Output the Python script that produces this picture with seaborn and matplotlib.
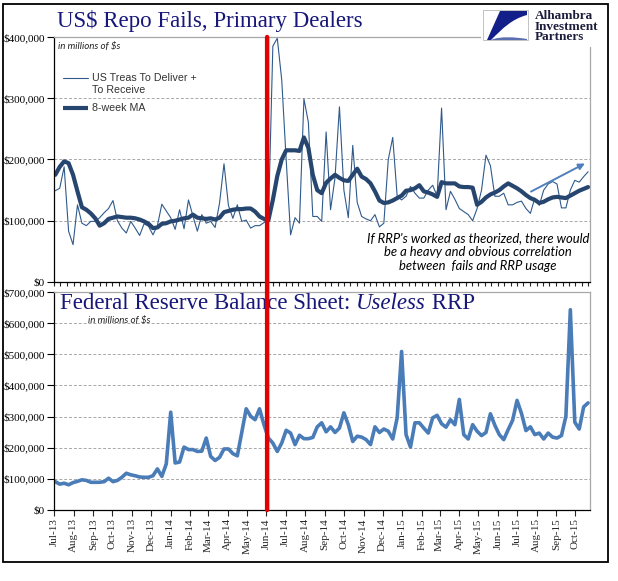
import numpy as np
import pandas as pd
import matplotlib
matplotlib.use("Agg")
import matplotlib.pyplot as plt
import matplotlib.dates as mdates
import matplotlib.ticker as mticker
from matplotlib.patches import Rectangle, PathPatch, ConnectionPatch
from matplotlib.path import Path
from matplotlib.lines import Line2D
import seaborn as sns

# ---------------- data (values in $ thousands of millions) ----------------
first_week = "2013-07-03"          # weekly (Wednesday) observations
n_weeks = 121
x_start = "2013-07-01"
x_end = "2015-10-24"
red_line_date = "2014-06-02"

fails_raw_k = [149, 153, 188, 83, 61, 126, 96, 92, 99, 99,
               105, 113, 120, 133, 100, 88, 80, 99, 88, 76,
               95, 91, 77, 92, 127, 116, 105, 86, 118, 87,
               134, 108, 83, 110, 96, 99, 89, 129, 193, 125,
               104, 126, 99, 101, 88, 92, 92, 97, 101,
               385, 398, 330, 200, 77, 105, 96, 299, 261, 107, 107, 99,
               245, 118, 170, 286, 150, 105, 223, 130, 107, 103,
               100, 110, 90, 96, 200, 236, 140, 134, 140, 156,
               145, 137, 137, 150, 158, 140, 284, 118, 148, 135,
               120, 115, 110, 100, 120, 150, 207, 190, 140, 140, 145,
               126, 126, 130, 132, 120, 112, 137, 125, 150, 160,
               164, 160, 121, 121, 150, 166, 163, 172, 180]

fails_ma_k = [175, 188, 197, 194, 175, 148, 122, 118, 112, 104,
              92, 96, 103, 105, 107, 106, 105, 105, 104, 102,
              99, 95, 88, 89, 95, 96, 99, 100, 102, 104,
              105, 110, 105, 104, 103, 104, 102, 105, 114, 116,
              118, 119, 119, 120, 120, 115, 107, 103, 101,
              134, 173, 200, 215, 215, 215, 214, 236, 219, 175, 150, 145,
              162, 169, 175, 170, 166, 165, 175, 185, 172, 168,
              161, 148, 133, 129, 130, 133, 137, 141, 149, 150,
              153, 158, 148, 146, 143, 139, 163, 161, 161, 161,
              156, 155, 155, 154, 126, 131, 138, 143, 146, 150,
              156, 161, 157, 153, 148, 142, 137, 134,
              129, 131, 135, 138, 139, 138, 137, 141, 145, 149, 152, 155]

rrp_k = [91, 83, 86, 81, 88, 92, 97, 95, 89, 89,
         89, 91, 102, 91, 95, 105, 118, 113, 110, 106,
         105, 105, 110, 132, 108, 148, 314, 151, 154, 202,
         194, 194, 188, 189, 231, 172, 159, 169, 196, 196,
         181, 174, 249, 325, 301, 290, 325, 274, 231,
         215, 188, 215, 256, 247, 210, 240, 229, 229, 233, 267, 280,
         251, 267, 249, 263, 312, 274, 220, 237, 234, 226,
         210, 267, 249, 260, 253, 228, 296, 509, 242, 202,
         280, 280, 263, 247, 296, 304, 277, 266, 290, 274,
         355, 242, 228, 274, 253, 239, 249, 309, 272, 242,
         226, 258, 288, 352, 310, 255, 267, 242, 247, 228, 247, 234,
         231, 239, 301, 643, 282, 260, 331, 344]

arrow_from = ("2015-07-23", 147600)
arrow_to = ("2015-10-16", 193500)

top_title = "US$ Repo Fails, Primary Dealers"
bottom_title = ["Federal Reserve Balance Sheet: ", "Useless", " RRP"]
units_label = "in millions of $s"
legend_raw = ["US Treas To Deliver +", "To Receive"]
legend_ma = "8-week MA"
note_text = ("If RRP's worked as theorized, there would\n"
             "be a heavy and obvious correlation\n"
             "between  fails and RRP usage")
logo_text = "Alhambra\nInvestment\nPartners"

UNIT = 1000
dates = pd.date_range(first_week, periods=n_weeks, freq="7D")
df = pd.DataFrame({"date": dates,
                   "raw": np.array(fails_raw_k) * UNIT,
                   "ma": np.array(fails_ma_k) * UNIT,
                   "rrp": np.array(rrp_k) * UNIT})

# ---------------- style ----------------
sns.set_style("white")
plt.rcParams["font.family"] = ["Liberation Serif", "DejaVu Serif"]

W, H = 618, 581
fig = plt.figure(figsize=(W / 100, H / 100), dpi=100)
fig.patch.set_facecolor("white")

def fx(px):
    return px / W

def fy(py):
    return 1 - py / H

L, R = 54, 590
ax1 = fig.add_axes([fx(L), fy(282), fx(R - L), (282 - 37) / H])
ax2 = fig.add_axes([fx(L), fy(510), fx(R - L), (510 - 292) / H])

navy_title = "#17177a"
raw_col = "#2f5a8c"
ma_col = "#27466f"
rrp_col = "#4a7cb8"
grid_col = "#a8a8a8"

sns.lineplot(data=df, x="date", y="raw", ax=ax1, color=raw_col, lw=0.8, legend=False)
sns.lineplot(data=df, x="date", y="ma", ax=ax1, color=ma_col, lw=3.0, legend=False)
sns.lineplot(data=df, x="date", y="rrp", ax=ax2, color=rrp_col, lw=2.6, legend=False)

money = mticker.FuncFormatter(lambda v, p: f"${v:,.0f}")
xs, xe = pd.Timestamp(x_start), pd.Timestamp(x_end)

for ax, top, step in ((ax1, 400000, 100000), (ax2, 700000, 100000)):
    ax.set_xlim(xs, xe)
    ax.set_ylim(0, top)
    ax.set_yticks(np.arange(0, top + 1, step))
    ax.yaxis.set_major_formatter(money)
    ax.set_xlabel("")
    ax.set_ylabel("")
    ax.set_facecolor("white")
    for g in np.arange(step, top, step):
        ax.axhline(g, color=grid_col, lw=0.7, ls=(0, (3, 2)), zorder=0)
    for s in ("top", "right"):
        ax.spines[s].set_color("#a8a8a8")
        ax.spines[s].set_linewidth(0.9)
    for s in ("left", "bottom"):
        ax.spines[s].set_color("black")
        ax.spines[s].set_linewidth(0.9)
    ax.tick_params(axis="y", direction="out", length=5, width=0.8, pad=1.5,
                   labelsize=8, colors="black", left=True)

ax1.xaxis.set_major_locator(mdates.DayLocator(bymonthday=[1, 11, 21]))
ax1.xaxis.set_major_formatter(mticker.NullFormatter())
ax1.tick_params(axis="x", direction="out", length=3, width=0.8, bottom=True)

ax2.xaxis.set_major_locator(mdates.MonthLocator())
ax2.xaxis.set_major_formatter(mdates.DateFormatter("%b-%y"))
ax2.tick_params(axis="x", direction="out", length=4, width=0.8, pad=2,
                labelsize=8, labelrotation=90, bottom=True)

# red vertical marker across both panels
rd = mdates.date2num(pd.Timestamp(red_line_date))
con = ConnectionPatch(xyA=(rd, 400000), coordsA=ax1.transData,
                      xyB=(rd, 0), coordsB=ax2.transData,
                      color="#e10000", lw=3.2, zorder=20)
fig.add_artist(con)

# titles
fig.text(fx(57), fy(27), top_title, fontsize=16.5, color=navy_title,
         va="baseline", ha="left")
TS = 16.5
t1 = fig.text(fx(60), fy(309), bottom_title[0], fontsize=TS, color=navy_title,
              va="baseline", ha="left")
t2 = fig.text(0, 0, bottom_title[1], fontsize=TS, color=navy_title,
              style="italic", va="baseline", ha="left")
t3 = fig.text(0, 0, bottom_title[2], fontsize=TS, color=navy_title,
              va="baseline", ha="left")

# units labels
fig.text(fx(58), fy(47), units_label, fontsize=7, family="Lato", style="italic",
         color="#222222", va="center")
fig.text(fx(88), fy(321), units_label, fontsize=7, family="Lato", style="italic",
         color="#222222", va="center")

# legend drawn by hand
def axx(px):
    return (px - L) / (R - L)

def axy(py):
    return (282 - py) / (282 - 37)

ax1.add_line(Line2D([axx(63), axx(88)], [axy(78), axy(78)], transform=ax1.transAxes,
                    color=raw_col, lw=0.8))
ax1.add_line(Line2D([axx(63), axx(88)], [axy(108), axy(108)], transform=ax1.transAxes,
                    color=ma_col, lw=3.0, solid_capstyle="butt"))
lf = dict(fontsize=7.7, family="Liberation Sans", color="#333333", va="center",
          ha="left", transform=ax1.transAxes)
ax1.text(axx(92), axy(78), legend_raw[0], **lf)
ax1.text(axx(92), axy(90), legend_raw[1], **lf)
ax1.text(axx(92), axy(108), legend_ma, **lf)

# note + arrow
ax1.text(axx(478), axy(252), note_text, transform=ax1.transAxes, fontsize=9.4,
         family="Lato", style="italic", color="black", ha="center", va="center",
         multialignment="center", linespacing=1.2)
ax1.annotate("", xy=(pd.Timestamp(arrow_to[0]), arrow_to[1]),
             xytext=(pd.Timestamp(arrow_from[0]), arrow_from[1]),
             arrowprops=dict(arrowstyle="-|>", color="#4f7fbc", lw=1.4,
                             mutation_scale=9, shrinkA=0, shrinkB=0))

# logo area
fig.add_artist(Rectangle((fx(481), fy(47)), fx(606 - 481), (47 - 5) / H,
                         transform=fig.transFigure, fc="white", ec="none", zorder=30))
fig.add_artist(Rectangle((fx(483), fy(40)), fx(45), 30 / H, transform=fig.transFigure,
                         fc="white", ec="#b8b8b8", lw=0.6, zorder=31))
verts = [(500, 11), (527, 11), (527, 15),
         (512, 19), (503, 28), (491, 40),
         (487, 40), (487, 40)]
codes = [Path.MOVETO, Path.LINETO, Path.LINETO,
         Path.CURVE4, Path.CURVE4, Path.CURVE4,
         Path.LINETO, Path.CLOSEPOLY]
path = Path([(fx(a), fy(b)) for a, b in verts], codes)
fig.add_artist(PathPatch(path, transform=fig.transFigure, fc="#14208a", ec="none",
                         zorder=32))
tail = [(491, 40), (500, 36), (515, 37), (527, 39), (527, 40), (491, 40)]
tcodes = [Path.MOVETO, Path.CURVE4, Path.CURVE4, Path.CURVE4, Path.LINETO, Path.CLOSEPOLY]
fig.add_artist(PathPatch(Path([(fx(a), fy(b)) for a, b in tail], tcodes),
                         transform=fig.transFigure, fc="#5a6fb0", ec="none", zorder=32))
fig.text(fx(535), fy(26.5), logo_text, fontsize=9.5, color="#1c1c3c", weight="bold",
         va="center", ha="left", linespacing=0.82, zorder=33)

# outer frame
fig.add_artist(Rectangle((fx(3), fy(562)), fx(605), (562 - 4) / H,
                         transform=fig.transFigure, fill=False, ec="black", lw=1.3,
                         zorder=40))

# chain the bottom title pieces
fig.canvas.draw()
r = fig.canvas.get_renderer()
inv = fig.transFigure.inverted()
bb1 = t1.get_window_extent(r)
x2 = inv.transform((bb1.x1, bb1.y0))[0]
t2.set_position((x2, fy(309)))
bb2 = t2.get_window_extent(r)
x3 = inv.transform((bb2.x1, bb2.y0))[0]
t3.set_position((x3, fy(309)))

fig.savefig("out.png", dpi=100, facecolor="white")
